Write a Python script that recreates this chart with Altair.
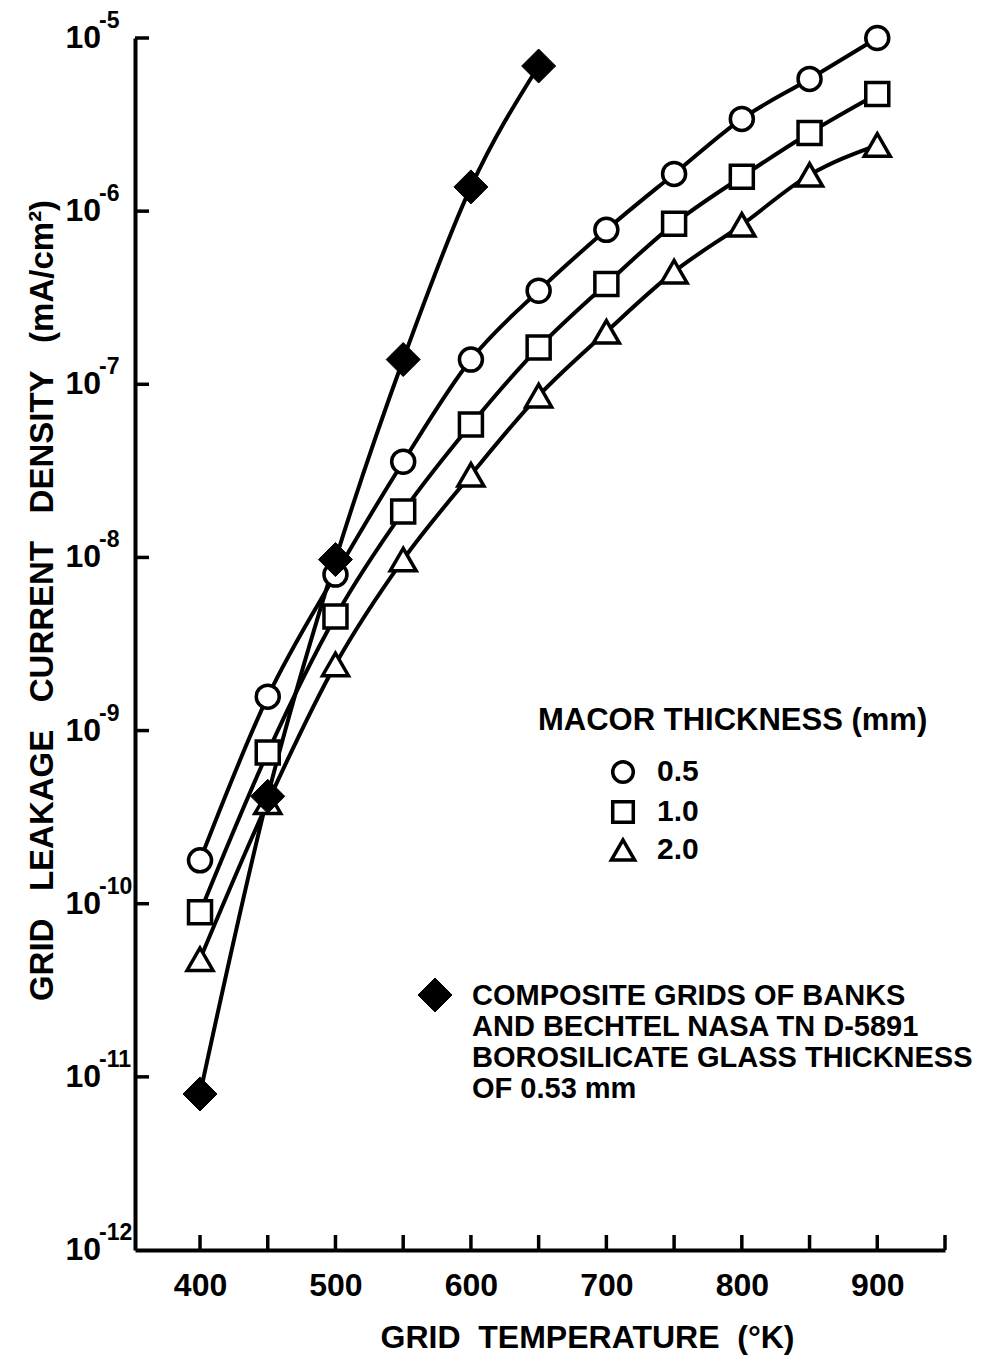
import altair as alt
import pandas as pd

# Grid temperature (K) at which each leakage measurement was taken
temps = [400, 450, 500, 550, 600, 650, 700, 750, 800, 850, 900]

# Grid leakage current density (mA/cm^2) for each Macor thickness
macor_05 = [1.78e-10, 1.57e-9, 7.96e-9, 3.57e-8, 1.39e-7, 3.47e-7, 7.8e-7, 1.64e-6, 3.41e-6, 5.8e-6, 1.0e-5]
macor_10 = [8.93e-11, 7.48e-10, 4.56e-9, 1.84e-8, 5.85e-8, 1.63e-7, 3.8e-7, 8.45e-7, 1.58e-6, 2.83e-6, 4.75e-6]
macor_20 = [4.78e-11, 3.85e-10, 2.41e-9, 9.72e-9, 3.0e-8, 8.6e-8, 2.01e-7, 4.47e-7, 8.34e-7, 1.62e-6, 2.41e-6]

# Composite grids of Banks and Bechtel (borosilicate glass, 0.53 mm)
banks_temps = [400, 450, 500, 550, 600, 650]
banks_glass = [7.96e-12, 4.17e-10, 9.72e-9, 1.39e-7, 1.38e-6, 6.89e-6]

series_names = ["0.5", "1.0", "2.0"]
series_shapes = ["circle", "square", "triangle-up"]
series_sizes = [529, 529, 676]

decade_exponents = [-12, -11, -10, -9, -8, -7, -6, -5]
x_tick_values = [400, 450, 500, 550, 600, 650, 700, 750, 800, 850, 900, 950]
x_label_values = [400, 500, 600, 700, 800, 900]

legend_title = "MACOR THICKNESS (mm)"
banks_label = [
    "COMPOSITE GRIDS OF  BANKS",
    "AND BECHTEL NASA TN D-5891",
    "BOROSILICATE  GLASS THICKNESS",
    "OF 0.53 mm",
]

FONT = "Liberation Sans"
INK = "#000000"
W, H = 810, 1212

macor_sets = [macor_05, macor_10, macor_20]
frames = []
for name, vals in zip(series_names, macor_sets):
    frames.append(pd.DataFrame({"temp": temps, "density": vals, "series": name}))
frames.append(pd.DataFrame({"temp": banks_temps, "density": banks_glass, "series": "banks"}))
curves = pd.concat(frames, ignore_index=True)

x_enc = alt.X(
    "temp:Q",
    scale=alt.Scale(domain=[352, 950], nice=False, zero=False),
    axis=alt.Axis(
        values=x_label_values,
        ticks=False,
        tickSize=0,
        grid=False,
        labelFontSize=32,
        labelFont=FONT,
        labelFontWeight="bold",
        labelColor=INK,
        labelPadding=20,
        labelFlush=False,
        labelOverlap=False,
        domainColor=INK,
        domainWidth=4,
        title="GRID\u00a0 TEMPERATURE\u00a0 (°K)",
        titleFont=FONT,
        titleFontSize=32,
        titleFontWeight="bold",
        titleColor=INK,
        titleX=452,
        titleY=97,
        titleAlign="center",
        titleBaseline="alphabetic",
    ),
)

y_enc = alt.Y(
    "density:Q",
    scale=alt.Scale(type="log", domain=[1e-12, 1e-5], nice=False),
    axis=alt.Axis(
        labels=False,
        ticks=False,
        tickSize=0,
        grid=False,
        domainColor=INK,
        domainWidth=4,
        title="GRID\u00a0\u00a0 LEAKAGE\u00a0\u00a0 CURRENT\u00a0\u00a0 DENSITY\u00a0\u00a0 (mA/cm²)",
        titleFont=FONT,
        titleFontSize=33,
        titleFontWeight="bold",
        titleColor=INK,
        titleAngle=270,
        titleX=-83,
        titleY=562,
        titleAlign="center",
        titleBaseline="alphabetic",
    ),
)

# Smooth connecting curves
lines = alt.Chart(curves).mark_line(
    interpolate="monotone", color=INK, strokeWidth=4
).encode(x=x_enc, y=y_enc, detail="series:N")

# Hollow markers for the Macor series
layers = [lines]
for name, shape, size in zip(series_names, series_shapes, series_sizes):
    sub = curves[curves["series"] == name]
    layers.append(
        alt.Chart(sub).mark_point(
            shape=shape, size=size, filled=True, fill="white",
            stroke=INK, strokeWidth=3.5, opacity=1
        ).encode(x=x_enc, y=y_enc)
    )

# Solid diamonds for the glass grids
layers.append(
    alt.Chart(curves[curves["series"] == "banks"]).mark_point(
        shape="diamond", size=1156, filled=True, fill=INK, stroke=INK,
        strokeWidth=1, opacity=1
    ).encode(x=x_enc, y=y_enc)
)

# Inward ticks on both axes
decades = pd.DataFrame({
    "density": [10.0 ** e for e in decade_exponents],
    "base": "10",
    "exp": [str(e) for e in decade_exponents],
})
y_ticks = alt.Chart(decades[decades["density"] > 1e-12]).mark_rule(
    color=INK, strokeWidth=3.5
).encode(x=alt.value(0), x2=alt.value(14), y=y_enc)

x_tick_df = pd.DataFrame({"temp": x_tick_values})
x_ticks = alt.Chart(x_tick_df).mark_rule(color=INK, strokeWidth=3.5).encode(
    x=x_enc, y=alt.value(H - 15), y2=alt.value(H)
)

# Power-of-ten labels on the y axis
y_base = alt.Chart(decades).mark_text(
    align="right", baseline="middle", font=FONT, fontSize=32,
    fontWeight="bold", color=INK
).encode(x=alt.value(-34), y=y_enc, text="base:N")
y_exp = alt.Chart(decades).mark_text(
    align="left", baseline="middle", font=FONT, fontSize=23,
    fontWeight="bold", color=INK, dy=-17
).encode(x=alt.value(-36), y=y_enc, text="exp:N")

layers += [y_ticks, x_ticks, y_base, y_exp]

# Hand-placed key
text_style = dict(font=FONT, fontWeight="bold", color=INK)
layers.append(
    alt.Chart(pd.DataFrame({"t": [legend_title]})).mark_text(
        align="left", baseline="alphabetic", fontSize=31, **text_style
    ).encode(x=alt.value(403), y=alt.value(692), text="t:N")
)
key_rows = [734, 774, 812]
for name, shape, size, ky in zip(series_names, series_shapes, series_sizes, key_rows):
    layers.append(
        alt.Chart(pd.DataFrame({"t": [name]})).mark_point(
            shape=shape, size=size * 0.8, filled=True, fill="white",
            stroke=INK, strokeWidth=3.5, opacity=1
        ).encode(x=alt.value(488), y=alt.value(ky))
    )
    layers.append(
        alt.Chart(pd.DataFrame({"t": [name]})).mark_text(
            align="left", baseline="middle", fontSize=30, **text_style
        ).encode(x=alt.value(522), y=alt.value(ky), text="t:N")
    )

layers.append(
    alt.Chart(pd.DataFrame({"t": ["banks"]})).mark_point(
        shape="diamond", size=1156, filled=True, fill=INK, stroke=INK,
        strokeWidth=1, opacity=1
    ).encode(x=alt.value(300), y=alt.value(957))
)
layers.append(
    alt.Chart(pd.DataFrame({"t": ["banks"]})).mark_text(
        align="left", baseline="alphabetic", fontSize=29, lineHeight=31,
        **text_style
    ).encode(x=alt.value(337), y=alt.value(967), text=alt.value(banks_label))
)

chart = alt.layer(*layers).properties(
    width=W,
    height=H,
    autosize=alt.AutoSizeParams(type="none"),
    padding={"left": 135, "top": 38, "right": 61, "bottom": 106},
    background="white",
).configure_view(stroke=None)

chart.save("out.html", embed_options={"renderer": "svg", "actions": False})
